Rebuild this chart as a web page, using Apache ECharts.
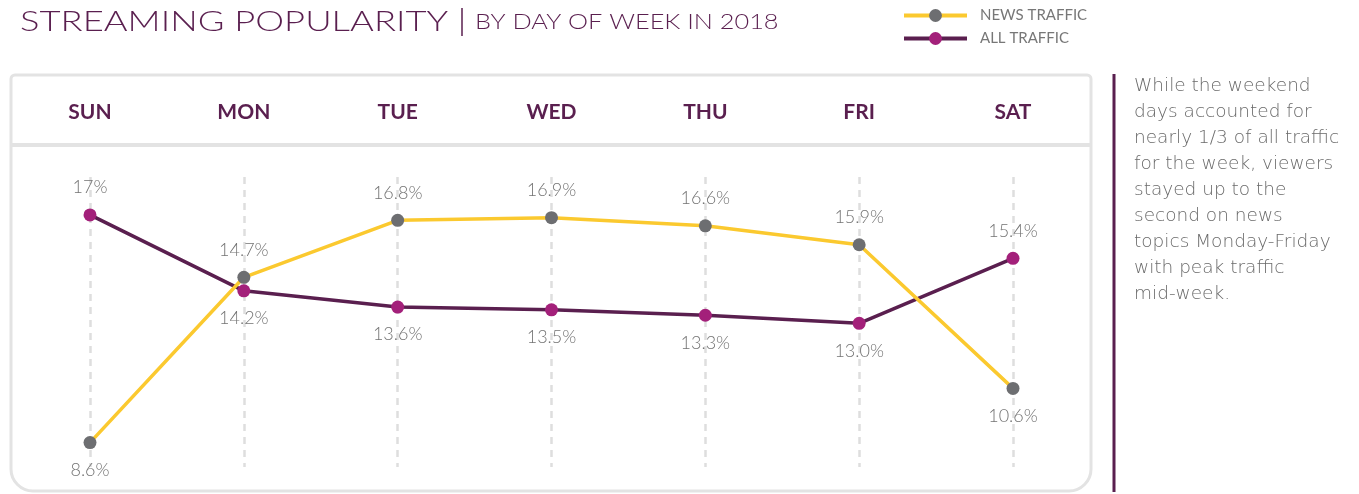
<!DOCTYPE html>
<html>
<head>
<meta charset="utf-8">
<title>Streaming popularity</title>
<script src="https://cdn.jsdelivr.net/npm/echarts@6/dist/echarts.min.js"></script>
<style>
  html, body { margin: 0; padding: 0; background: #fff; }
  #main { width: 1359px; height: 494px; }
</style>
</head>
<body>
<div id="main"></div>
<script>
// 数据
var days = ['SUN', 'MON', 'TUE', 'WED', 'THU', 'FRI', 'SAT'];
var newsTraffic = [8.6, 14.7, 16.8, 16.9, 16.6, 15.9, 10.6];
var allTraffic = [17.0, 14.2, 13.6, 13.5, 13.3, 13.0, 15.4];
var newsLabels = ['8.6%', '14.7%', '16.8%', '16.9%', '16.6%', '15.9%', '10.6%'];
var allLabels = ['17%', '14.2%', '13.6%', '13.5%', '13.3%', '13.0%', '15.4%'];
var note = 'While the weekend\ndays accounted for\nnearly 1/3 of all traffic\nfor the week, viewers\nstayed up to the\nsecond on news\ntopics Monday-Friday\nwith peak traffic\nmid-week.';

var purple = '#5a1f4f';
var font = 'Lato, "Open Sans", sans-serif';

// 标签在上还是在下：比另一条线高就放上面
function buildData (values, other, labels) {
  return values.map(function (v, i) {
    var above = v >= other[i];
    return {
      value: v,
      label: {
        position: above ? 'top' : 'bottom',
        formatter: labels[i]
      }
    };
  });
}

var myChart = echarts.init(document.getElementById('main'));

var option = {
  animation: false,
  textStyle: { fontFamily: font },
  legend: {
    data: ['NEWS TRAFFIC', 'ALL TRAFFIC'],
    orient: 'vertical',
    left: 897,
    top: 3,
    itemWidth: 63,
    itemHeight: 16,
    itemGap: 8,
    lineStyle: { width: 4 },
    textStyle: { color: '#777', fontSize: 15, fontFamily: font, padding: [0, 0, 0, 8] }
  },
  grid: {
    left: 90,
    right: 346,
    top: 177,
    height: 290
  },
  xAxis: {
    type: 'category',
    position: 'top',
    boundaryGap: false,
    data: days,
    axisLine: { show: false },
    axisTick: { show: false },
    axisLabel: {
      margin: 54,
      color: purple,
      fontSize: 21,
      fontWeight: 'bold',
      fontFamily: font
    },
    splitLine: {
      show: true,
      lineStyle: { color: '#dedede', width: 2.5, type: [7, 6] }
    }
  },
  yAxis: {
    type: 'value',
    min: 7.7,
    max: 18.4,
    show: false,
    splitLine: { show: false }
  },
  series: [
    {
      name: 'ALL TRAFFIC',
      type: 'line',
      data: buildData(allTraffic, newsTraffic, allLabels),
      symbol: 'circle',
      symbolSize: 13,
      lineStyle: { color: purple, width: 3.5 },
      itemStyle: { color: '#a3207a' },
      label: { show: true, distance: 12, color: '#737373', fontSize: 18, fontWeight: 300, fontFamily: font }
    },
    {
      name: 'NEWS TRAFFIC',
      type: 'line',
      data: buildData(newsTraffic, allTraffic, newsLabels),
      symbol: 'circle',
      symbolSize: 13,
      lineStyle: { color: '#fbc92f', width: 3.5 },
      itemStyle: { color: '#6d6e71' },
      label: { show: true, distance: 12, color: '#737373', fontSize: 18, fontWeight: 300, fontFamily: font }
    }
  ],
  graphic: [
    // 外框
    {
      type: 'rect',
      z: -10,
      shape: { x: 11, y: 75, width: 1080, height: 416, r: [4, 4, 22, 22] },
      style: { fill: 'none', stroke: '#e3e3e3', lineWidth: 3 }
    },
    // 表头分隔线
    {
      type: 'line',
      z: -10,
      shape: { x1: 12, y1: 145, x2: 1090, y2: 145 },
      style: { stroke: '#e3e3e3', lineWidth: 4 }
    },
    // 标题 (原图字体更宽，横向拉伸一点)
    {
      type: 'text',
      x: 20, y: 22,
      scaleX: 1.3,
      style: {
        text: 'STREAMING POPULARITY',
        fill: purple,
        font: '300 28px ' + font,
        verticalAlign: 'middle'
      }
    },
    {
      type: 'line',
      shape: { x1: 462, y1: 8, x2: 462, y2: 36 },
      style: { stroke: purple, lineWidth: 1.5 }
    },
    {
      type: 'text',
      x: 475, y: 22,
      scaleX: 1.15,
      style: {
        text: 'BY DAY OF WEEK IN 2018',
        fill: purple,
        font: '300 22px ' + font,
        verticalAlign: 'middle'
      }
    },
    // 右侧说明
    {
      type: 'line',
      shape: { x1: 1114, y1: 74, x2: 1114, y2: 492 },
      style: { stroke: purple, lineWidth: 3 }
    },
    {
      type: 'text',
      x: 1134, y: 73,
      style: {
        text: note,
        fill: '#6a6a6a',
        font: '200 18.5px "DejaVu Sans", ' + font,
        lineHeight: 26,
        verticalAlign: 'top'
      }
    }
  ]
};

myChart.setOption(option);
window.addEventListener('resize', function () {
  myChart.resize();
});
</script>
</body>
</html>
